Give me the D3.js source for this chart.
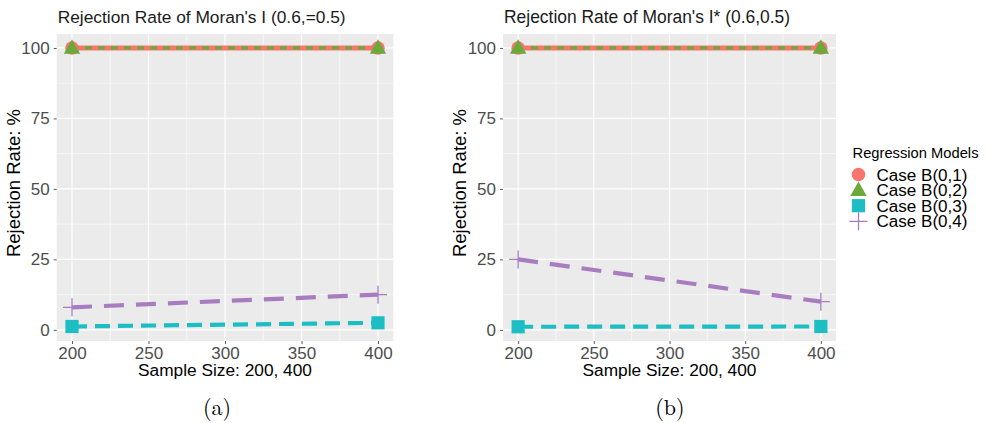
<!DOCTYPE html>
<html>
<head>
<meta charset="utf-8">
<script src="https://cdn.jsdelivr.net/npm/d3@7"></script>
<style>
  html, body { margin: 0; padding: 0; background: #ffffff; }
  svg { display: block; }
</style>
</head>
<body>
<svg id="chart" width="988" height="423"></svg>
<script>
// Sample sizes on the x axis
const sampleSizes = [200, 400];
// Regression model names (legend order)
const models = ["Case B(0,1)", "Case B(0,2)", "Case B(0,3)", "Case B(0,4)"];
// Rejection rates (%) for Moran's I, panel (a)
const rateA_B01 = [100, 100];
const rateA_B02 = [100, 100];
const rateA_B03 = [1.2, 2.5];
const rateA_B04 = [8.0, 12.5];
// Rejection rates (%) for Moran's I*, panel (b)
const rateB_B01 = [100, 100];
const rateB_B02 = [100, 100];
const rateB_B03 = [1.1, 1.2];
const rateB_B04 = [25.0, 10.0];
// Axis ticks
const xTicks = [200, 250, 300, 350, 400];
const yTicks = [0, 25, 50, 75, 100];
const panelTitles = ["Rejection Rate of Moran's I (0.6,=0.5)", "Rejection Rate of Moran's I* (0.6,0.5)"];
const captions = ["(a)", "(b)"];

const colors = ["#F8766D", "#6FA83A", "#1CBEC3", "#A77DC0"];
const shapes = ["circle", "triangle", "square", "plus"];
const dashes = [null, "7,6", "15,8", "20,12"];
const widths = [5, 3.2, 4.2, 4.2];

const svg = d3.select("#chart");
const font = "'Liberation Sans', Arial, Helvetica, sans-serif";

const panels = [
  { left: 56.7, right: 393.3, captionX: 217, titleW: 288, series: [rateA_B01, rateA_B02, rateA_B03, rateA_B04] },
  { left: 503, right: 836, captionX: 670, titleW: 286, series: [rateB_B01, rateB_B02, rateB_B03, rateB_B04] }
];
const panelTop = 34, panelBottom = 341;

// Scale a text's font size so that it spans the given width
function fitWidth(sel, width) {
  const fs = parseFloat(sel.style("font-size"));
  const w = sel.node().getComputedTextLength();
  if (w > 0) sel.style("font-size", (fs * width / w).toFixed(2) + "px");
  return sel;
}

function drawShape(g, shape, cx, cy, color) {
  if (shape === "circle") {
    g.append("circle").attr("cx", cx).attr("cy", cy).attr("r", 6.8).attr("fill", color);
  } else if (shape === "triangle") {
    const s = 8.2;
    g.append("path")
      .attr("d", `M${cx},${cy - s * 1.05} L${cx + s},${cy + s * 0.72} L${cx - s},${cy + s * 0.72} Z`)
      .attr("fill", color);
  } else if (shape === "square") {
    g.append("rect").attr("x", cx - 6.6).attr("y", cy - 6.6).attr("width", 13.2).attr("height", 13.2).attr("fill", color);
  } else {
    g.append("path")
      .attr("d", `M${cx - 9},${cy} H${cx + 9} M${cx},${cy - 9} V${cy + 9}`)
      .attr("stroke", color).attr("stroke-width", 1.3).attr("fill", "none");
  }
}

panels.forEach((p, pi) => {
  const x = d3.scaleLinear().domain([190, 410]).range([p.left, p.right]);
  const y = d3.scaleLinear().domain([-3.95, 104.95]).range([panelBottom, panelTop]);
  const g = svg.append("g");

  // panel background
  g.append("rect").attr("x", p.left).attr("y", panelTop)
    .attr("width", p.right - p.left).attr("height", panelBottom - panelTop).attr("fill", "#EBEBEB");

  // minor grid
  const xMinor = [225, 275, 325, 375];
  const yMinor = [12.5, 37.5, 62.5, 87.5];
  xMinor.forEach(v => g.append("line").attr("x1", x(v)).attr("x2", x(v)).attr("y1", panelTop).attr("y2", panelBottom)
    .attr("stroke", "#fff").attr("stroke-width", 0.6));
  yMinor.forEach(v => g.append("line").attr("x1", p.left).attr("x2", p.right).attr("y1", y(v)).attr("y2", y(v))
    .attr("stroke", "#fff").attr("stroke-width", 0.6));
  // major grid
  xTicks.forEach(v => g.append("line").attr("x1", x(v)).attr("x2", x(v)).attr("y1", panelTop).attr("y2", panelBottom)
    .attr("stroke", "#fff").attr("stroke-width", 1.2));
  yTicks.forEach(v => g.append("line").attr("x1", p.left).attr("x2", p.right).attr("y1", y(v)).attr("y2", y(v))
    .attr("stroke", "#fff").attr("stroke-width", 1.2));

  // axes
  const xAxis = d3.axisBottom(x).tickValues(xTicks).tickSize(3).tickPadding(3);
  const yAxis = d3.axisLeft(y).tickValues(yTicks).tickSize(3).tickPadding(4);
  const gx = g.append("g").attr("transform", `translate(0,${panelBottom})`).call(xAxis);
  const gy = g.append("g").attr("transform", `translate(${p.left},0)`).call(yAxis);
  [gx, gy].forEach(a => {
    a.select(".domain").remove();
    a.selectAll(".tick line").attr("stroke", "#333").attr("stroke-width", 0.8);
    a.selectAll(".tick text").attr("fill", "#4D4D4D").style("font-family", font).style("font-size", "17px");
  });

  // lines
  const line = d3.line().x((d, i) => x(sampleSizes[i])).y(d => y(d));
  p.series.forEach((s, si) => {
    g.append("path").datum(s).attr("d", line)
      .attr("fill", "none").attr("stroke", colors[si]).attr("stroke-width", widths[si])
      .attr("stroke-dasharray", dashes[si]);
  });
  // points
  p.series.forEach((s, si) => {
    s.forEach((v, i) => drawShape(g, shapes[si], x(sampleSizes[i]), y(v), colors[si]));
  });

  // titles and labels
  const title = g.append("text").attr("x", p.left + 1).attr("y", 23).text(panelTitles[pi])
    .style("font-family", font).style("font-size", "17.4px").attr("fill", "#1a1a1a");
  fitWidth(title, p.titleW);
  const xl = g.append("text").attr("x", (p.left + p.right) / 2).attr("y", 376).attr("text-anchor", "middle")
    .text("Sample Size: 200, 400").style("font-family", font).style("font-size", "17.5px").attr("fill", "#000");
  fitWidth(xl, 174);
  const yl = g.append("text").attr("transform", `translate(${p.left - 37},183) rotate(-90)`)
    .attr("text-anchor", "middle").text("Rejection Rate: %")
    .style("font-family", font).style("font-size", "18.3px").attr("fill", "#000");
  fitWidth(yl, 148);
  g.append("text").attr("x", p.captionX).attr("y", 415).attr("text-anchor", "middle")
    .text(captions[pi]).style("font-family", "'Latin Modern Roman', 'DejaVu Serif', 'Liberation Serif', serif")
    .style("font-size", "22px").attr("fill", "#000");
});

// legend
const lg = svg.append("g");
const lt = lg.append("text").attr("x", 852.5).attr("y", 158).text("Regression Models")
  .style("font-family", font).style("font-size", "14.8px").attr("fill", "#000");
fitWidth(lt, 126);
models.forEach((m, i) => {
  const cy = 174.5 + i * 15.6;
  drawShape(lg, shapes[i], 858.5, cy, colors[i]);
  const t = lg.append("text").attr("x", 876.5).attr("y", cy + 6).text(m)
    .style("font-family", font).style("font-size", "17px").attr("fill", "#000");
  fitWidth(t, 91);
});
</script>
</body>
</html>
